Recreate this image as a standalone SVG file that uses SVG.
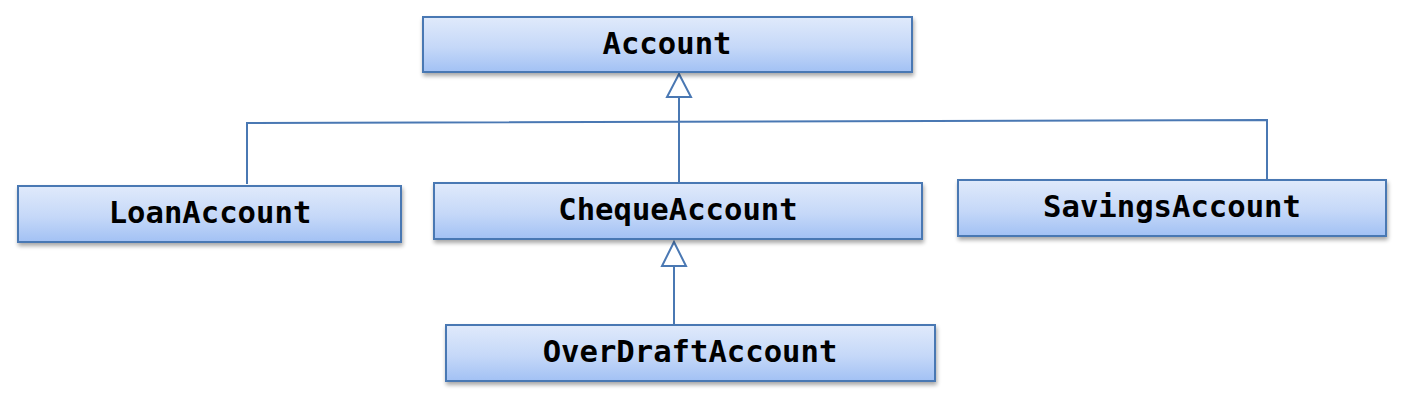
<svg xmlns="http://www.w3.org/2000/svg" width="1407" height="402" viewBox="0 0 1407 402">
<defs>
<linearGradient id="g" x1="0" y1="0" x2="0" y2="1">
<stop offset="0" stop-color="#e0eafb"/>
<stop offset="0.55" stop-color="#c5d8f8"/>
<stop offset="1" stop-color="#a2c1f4"/>
</linearGradient>
<filter id="sh" x="-5%" y="-20%" width="110%" height="150%">
<feGaussianBlur in="SourceAlpha" stdDeviation="2"/>
<feOffset dx="1" dy="3" result="b"/>
<feComponentTransfer><feFuncA type="linear" slope="0.35"/></feComponentTransfer>
<feMerge><feMergeNode/><feMergeNode in="SourceGraphic"/></feMerge>
</filter>
</defs>
<style>
.box{fill:url(#g);stroke:#4a78b3;stroke-width:2;filter:url(#sh)}
.lbl{font-family:"DejaVu Sans Mono","Liberation Mono",monospace;font-weight:bold;font-size:30.6px;fill:#000;text-anchor:middle}
.ln{fill:none;stroke:#4a78b3;stroke-width:2}
.tri{fill:#fff;stroke:#4a78b3;stroke-width:2}
</style>
<rect width="1407" height="402" fill="#fff"/>
<g id="connectors">
<path class="ln" d="M247,184 V123 L1267,120 V182"/>
<path class="ln" d="M679,97 V183"/>
<polygon class="tri" points="679,74 667,97 691,97"/>
<path class="ln" d="M674,266 V325"/>
<polygon class="tri" points="674,242 662,266 686,266"/>
</g>
<g id="account">
<rect class="box" x="423" y="17" width="489" height="55"/>
<text class="lbl" x="667" y="54">Account</text>
</g>
<g id="loanAccount">
<rect class="box" x="18" y="186" width="383" height="56"/>
<text class="lbl" x="210" y="223">LoanAccount</text>
</g>
<g id="chequeAccount">
<rect class="box" x="434" y="183" width="488" height="56"/>
<text class="lbl" x="678" y="220">ChequeAccount</text>
</g>
<g id="savingsAccount">
<rect class="box" x="958" y="180" width="428" height="56"/>
<text class="lbl" x="1172" y="217">SavingsAccount</text>
</g>
<g id="overDraftAccount">
<rect class="box" x="446" y="325" width="489" height="56"/>
<text class="lbl" x="690" y="362">OverDraftAccount</text>
</g>
</svg>
